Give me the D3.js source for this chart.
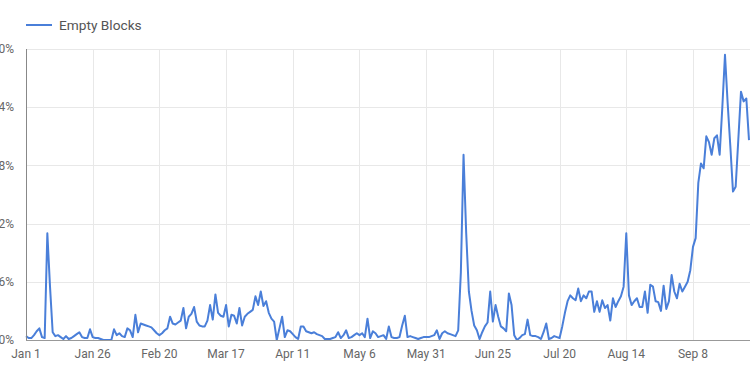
<!DOCTYPE html>
<html>
<head>
<meta charset="utf-8">
<script src="https://cdn.jsdelivr.net/npm/d3@7"></script>
<style>
  body { margin: 0; background: #fff; }
  svg { display: block; font-family: Roboto, "Noto Sans", sans-serif; }
  .grid line { stroke: #e8e8e8; stroke-width: 1; }
  .tick-label { fill: #666; font-size: 12px; }
  .legend-label { fill: #555; font-size: 13.7px; }
</style>
</head>
<body>
<svg width="750" height="375"></svg>
<script>
// daily share of empty blocks (%), from Jan 1 onward
const startDate = "2019-01-01";
const endDate = "2019-09-29";
const seriesName = "Empty Blocks";
const emptyBlocks = [
  0.04, 0.02, 0.02, 0.05, 0.09, 0.12, 0.03, 0.02, 1.10, 0.55,
  0.08, 0.04, 0.05, 0.03, 0.01, 0.04, 0.01, 0.02, 0.04, 0.06,
  0.08, 0.03, 0.02, 0.02, 0.11, 0.03, 0.02, 0.02, 0.01, 0.00,
  0.00, 0.00, 0.00, 0.11, 0.05, 0.07, 0.04, 0.03, 0.12, 0.10,
  0.03, 0.26, 0.08, 0.17, 0.16, 0.15, 0.14, 0.13, 0.10, 0.07,
  0.05, 0.07, 0.10, 0.12, 0.24, 0.17, 0.16, 0.18, 0.20, 0.33,
  0.12, 0.24, 0.27, 0.34, 0.19, 0.15, 0.14, 0.14, 0.20, 0.36,
  0.21, 0.47, 0.28, 0.25, 0.24, 0.36, 0.14, 0.26, 0.25, 0.17,
  0.33, 0.15, 0.24, 0.27, 0.29, 0.31, 0.45, 0.36, 0.50, 0.35,
  0.40, 0.28, 0.22, 0.19, 0.00, 0.12, 0.24, 0.03, 0.10, 0.09,
  0.06, 0.03, 0.01, 0.14, 0.14, 0.09, 0.08, 0.07, 0.08, 0.06,
  0.05, 0.04, 0.01, 0.01, 0.01, 0.02, 0.03, 0.08, 0.02, 0.05,
  0.10, 0.02, 0.03, 0.05, 0.07, 0.05, 0.07, 0.03, 0.22, 0.02,
  0.09, 0.07, 0.03, 0.04, 0.05, 0.01, 0.14, 0.03, 0.02, 0.02,
  0.03, 0.15, 0.25, 0.03, 0.04, 0.03, 0.02, 0.01, 0.02, 0.03,
  0.03, 0.03, 0.04, 0.05, 0.10, 0.01, 0.07, 0.09, 0.07, 0.06,
  0.05, 0.04, 0.10, 0.70, 1.91, 1.10, 0.50, 0.30, 0.15, 0.10,
  0.01, 0.08, 0.14, 0.18, 0.50, 0.19, 0.36, 0.24, 0.14, 0.12,
  0.09, 0.48, 0.36, 0.05, 0.00, 0.02, 0.05, 0.06, 0.21, 0.05,
  0.04, 0.04, 0.03, 0.01, 0.08, 0.17, 0.01, 0.02, 0.04, 0.03,
  0.02, 0.14, 0.28, 0.40, 0.46, 0.43, 0.41, 0.53, 0.40, 0.46,
  0.43, 0.50, 0.50, 0.29, 0.40, 0.29, 0.41, 0.33, 0.36, 0.20,
  0.43, 0.34, 0.40, 0.45, 0.55, 1.10, 0.46, 0.36, 0.40, 0.43,
  0.34, 0.34, 0.50, 0.28, 0.57, 0.55, 0.40, 0.39, 0.30, 0.56,
  0.32, 0.40, 0.67, 0.50, 0.43, 0.58, 0.50, 0.55, 0.60, 0.72,
  0.96, 1.05, 1.62, 1.82, 1.77, 2.10, 2.04, 1.91, 2.08, 2.11,
  1.91, 2.40, 2.94, 2.44, 2.00, 1.53, 1.58, 2.07, 2.56, 2.46,
  2.49, 2.06
];
const xTickDates = ["2019-01-01", "2019-01-26", "2019-02-20", "2019-03-17", "2019-04-11",
  "2019-05-06", "2019-05-31", "2019-06-25", "2019-07-20", "2019-08-14", "2019-09-08"];
const yTicks = [0, 0.6, 1.2, 1.8, 2.4, 3.0];

const parse = d3.timeParse("%Y-%m-%d");
const fmtDate = d3.timeFormat("%b %-d");
const t0 = parse(startDate);
const data = emptyBlocks.map((v, i) => ({ date: d3.timeDay.offset(t0, i), value: v }));

const margin = { top: 49, left: 26, bottom: 35 };
const W = 750, H = 375;

const x = d3.scaleTime()
  .domain([t0, parse(endDate)])
  .range([margin.left, 749]);
const y = d3.scaleLinear()
  .domain([0, 3.0])
  .range([H - margin.bottom, margin.top]);

const svg = d3.select("svg");

// gridlines
const grid = svg.append("g").attr("class", "grid");
grid.selectAll(".gy").data(yTicks).enter().append("line")
  .attr("x1", margin.left).attr("x2", W)
  .attr("y1", d => Math.round(y(d)) + 0.5).attr("y2", d => Math.round(y(d)) + 0.5);
grid.selectAll(".gx").data(xTickDates).enter().append("line")
  .attr("x1", d => Math.round(x(parse(d))) + 0.5).attr("x2", d => Math.round(x(parse(d))) + 0.5)
  .attr("y1", margin.top).attr("y2", H - margin.bottom);

// y labels (the chart is shifted left, so they are partly cut like in the source)
svg.selectAll(".ylab").data(yTicks).enter().append("text")
  .attr("class", "tick-label")
  .attr("x", 14)
  .attr("y", d => y(d))
  .attr("dy", "0.35em")
  .attr("text-anchor", "end")
  .text(d => d.toFixed(1) + "%");

// x labels
svg.selectAll(".xlab").data(xTickDates).enter().append("text")
  .attr("class", "tick-label")
  .attr("x", d => x(parse(d)))
  .attr("y", H - margin.bottom + 18)
  .attr("text-anchor", "middle")
  .text(d => fmtDate(parse(d)));

// line
const line = d3.line()
  .x(d => x(d.date))
  .y(d => y(d.value));

svg.append("path")
  .datum(data)
  .attr("fill", "none")
  .attr("stroke", "#4a7fd9")
  .attr("stroke-width", 2)
  .attr("stroke-linejoin", "round")
  .attr("d", line);

// axes lines
svg.append("line")
  .attr("x1", margin.left).attr("x2", W)
  .attr("y1", Math.round(y(0)) + 0.5).attr("y2", Math.round(y(0)) + 0.5)
  .attr("stroke", "#999");
svg.append("line")
  .attr("x1", margin.left + 0.5).attr("x2", margin.left + 0.5)
  .attr("y1", margin.top).attr("y2", y(0))
  .attr("stroke", "#888");

// legend
svg.append("line")
  .attr("x1", 26).attr("x2", 52)
  .attr("y1", 25).attr("y2", 25)
  .attr("stroke", "#4a7fd9")
  .attr("stroke-width", 2);
svg.append("text")
  .attr("class", "legend-label")
  .attr("x", 59).attr("y", 25)
  .attr("dy", "0.35em")
  .text(seriesName);
</script>
</body>
</html>
